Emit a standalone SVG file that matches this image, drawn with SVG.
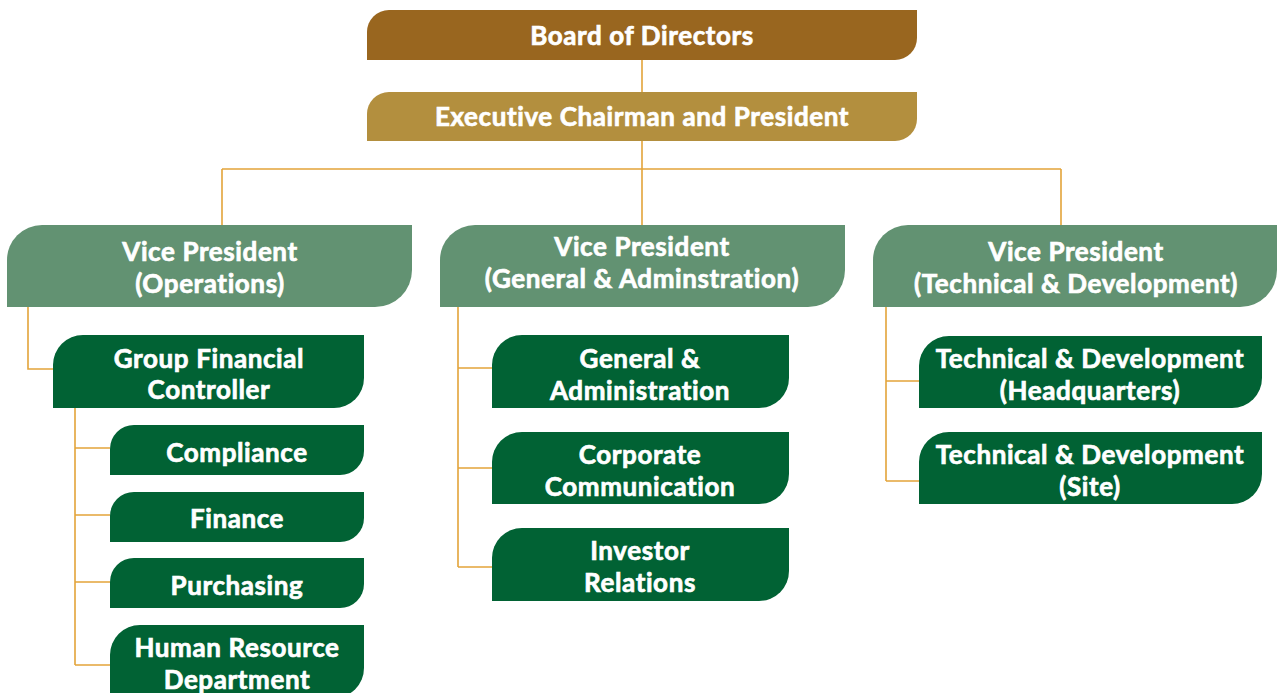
<svg xmlns="http://www.w3.org/2000/svg" width="1277" height="693" viewBox="0 0 1277 693">
<style>
.t{font-family:Lato,"Noto Sans",sans-serif;font-weight:700;font-size:26px;letter-spacing:0.6px;fill:#fff;stroke:#fff;stroke-width:0.7px;text-anchor:middle}
.c{fill:none;stroke:#E3A43A;stroke-width:1.6}
.board{fill:#99661F}
.exec{fill:#B38F3E}
.vp{fill:#629272}
.dk{fill:#016234}
</style>
<rect width="1277" height="693" fill="#fff"/>
<g id="connectors">
<path class="c" d="M642 60V92M642 141V169M222 169H1061M222 169V225M642 169V225M1061 169V225"/>
<path class="c" d="M28 307V369H53M75 408V665M75 448H110M75 515H110M75 582H110M75 665H110"/>
<path class="c" d="M458 307V567M458 368H492M458 468H492M458 567H492"/>
<path class="c" d="M886 307V481M886 381H919M886 481H919"/>
</g>
<g id="board"><path class="board" d="M367 32A22 22 0 0 1 389 10H917V38A22 22 0 0 1 895 60H367Z"/><text class="t" x="642" y="45">Board of Directors</text></g>
<g id="exec"><path class="exec" d="M367 114A22 22 0 0 1 389 92H917V119A22 22 0 0 1 895 141H367Z"/><text class="t" x="642" y="126">Executive Chairman and President</text></g>
<g id="vp-ops"><path class="vp" d="M7 260A35 35 0 0 1 42 225H412V270A37 37 0 0 1 375 307H7Z"/><text class="t" x="210" y="261">Vice President</text><text class="t" x="210" y="293">(Operations)</text></g>
<g id="vp-ga"><path class="vp" d="M440 260A35 35 0 0 1 475 225H845V270A37 37 0 0 1 808 307H440Z"/><text class="t" x="642" y="256">Vice President</text><text class="t" x="642" y="288">(General &amp; Adminstration)</text></g>
<g id="vp-td"><path class="vp" d="M873 260A35 35 0 0 1 908 225H1277V270A37 37 0 0 1 1240 307H873Z"/><text class="t" x="1076" y="261">Vice President</text><text class="t" x="1076" y="293">(Technical &amp; Development)</text></g>
<g id="gfc"><path class="dk" d="M53 365A30 30 0 0 1 83 335H364V378A30 30 0 0 1 334 408H53Z"/><text class="t" x="209" y="368">Group Financial</text><text class="t" x="209" y="399">Controller</text></g>
<g id="compliance"><path class="dk" d="M110 449A24 24 0 0 1 134 425H364V451A24 24 0 0 1 340 475H110Z"/><text class="t" x="237" y="462">Compliance</text></g>
<g id="finance"><path class="dk" d="M110 516A24 24 0 0 1 134 492H364V518A24 24 0 0 1 340 542H110Z"/><text class="t" x="237" y="528">Finance</text></g>
<g id="purchasing"><path class="dk" d="M110 582A24 24 0 0 1 134 558H364V584A24 24 0 0 1 340 608H110Z"/><text class="t" x="237" y="595">Purchasing</text></g>
<g id="hr"><path class="dk" d="M110 655A30 30 0 0 1 140 625H364V668A30 30 0 0 1 334 698H110Z"/><text class="t" x="237" y="657">Human Resource</text><text class="t" x="237" y="689">Department</text></g>
<g id="ga"><path class="dk" d="M492 365A30 30 0 0 1 522 335H789V378A30 30 0 0 1 759 408H492Z"/><text class="t" x="640" y="368">General &amp;</text><text class="t" x="640" y="400">Administration</text></g>
<g id="cc"><path class="dk" d="M492 462A30 30 0 0 1 522 432H789V474A30 30 0 0 1 759 504H492Z"/><text class="t" x="640" y="464">Corporate</text><text class="t" x="640" y="496">Communication</text></g>
<g id="ir"><path class="dk" d="M492 558A30 30 0 0 1 522 528H789V571A30 30 0 0 1 759 601H492Z"/><text class="t" x="640" y="560">Investor</text><text class="t" x="640" y="592">Relations</text></g>
<g id="td-hq"><path class="dk" d="M919 366A30 30 0 0 1 949 336H1262V378A30 30 0 0 1 1232 408H919Z"/><text class="t" x="1090" y="368">Technical &amp; Development</text><text class="t" x="1090" y="400">(Headquarters)</text></g>
<g id="td-site"><path class="dk" d="M919 462A30 30 0 0 1 949 432H1262V474A30 30 0 0 1 1232 504H919Z"/><text class="t" x="1090" y="464">Technical &amp; Development</text><text class="t" x="1090" y="496">(Site)</text></g>
</svg>
